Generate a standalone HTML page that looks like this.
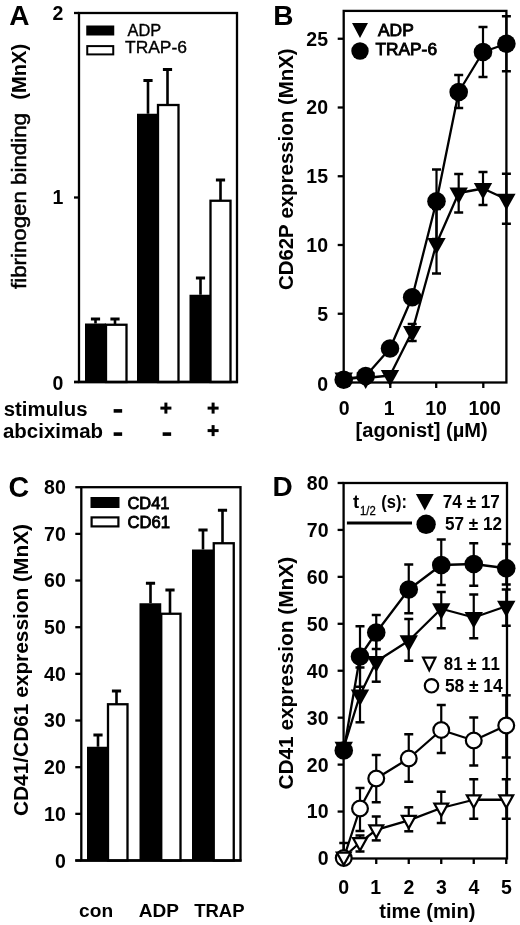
<!DOCTYPE html>
<html><head><meta charset="utf-8"><title>Figure</title>
<style>
html,body{margin:0;padding:0;background:#fff;}
svg{display:block;filter:blur(0.3px);}
text{font-family:"Liberation Sans",sans-serif;fill:#000;font-variant-ligatures:none;font-kerning:none;}
</style></head>
<body>
<svg width="520" height="925" viewBox="0 0 520 925">
<rect x="0" y="0" width="520" height="925" fill="#fff"/>
<!-- Panel A -->
<text x="9.3" y="25" font-size="28" font-weight="bold" >A</text>
<rect x="79" y="13" width="158" height="369" fill="none" stroke="#000" stroke-width="2.3"/>
<line x1="74" y1="13" x2="79" y2="13" stroke="#000" stroke-width="2.3" />
<line x1="74" y1="197.5" x2="79" y2="197.5" stroke="#000" stroke-width="2.3" />
<line x1="74" y1="382" x2="79" y2="382" stroke="#000" stroke-width="2.3" />
<text x="63.3" y="19.9" font-size="19.5" font-weight="bold" text-anchor="end" >2</text>
<text x="63.3" y="204.4" font-size="19.5" font-weight="bold" text-anchor="end" >1</text>
<text x="63.3" y="390.09999999999997" font-size="19.5" font-weight="bold" text-anchor="end" >0</text>
<text x="26.4" y="289" font-size="20" textLength="176" lengthAdjust="spacingAndGlyphs" transform="rotate(-90 26.4 289)" stroke="#000" stroke-width="0.5">fibrinogen binding</text>
<text x="26.4" y="99.7" font-size="20" font-weight="bold" textLength="55.8" lengthAdjust="spacingAndGlyphs" transform="rotate(-90 26.4 99.7)" >(MnX)</text>
<rect x="87.25" y="26.5" width="26" height="8" fill="#000" stroke="#000" stroke-width="2"/>
<rect x="87.25" y="46.1" width="26" height="8.3" fill="#fff" stroke="#000" stroke-width="2"/>
<text x="127.5" y="35.75" font-size="15.8" textLength="33.75" lengthAdjust="spacingAndGlyphs" stroke="#000" stroke-width="0.35">ADP</text>
<text x="125" y="53.2" font-size="15.8" textLength="62" lengthAdjust="spacingAndGlyphs" stroke="#000" stroke-width="0.35">TRAP-6</text>
<line x1="95.5" y1="319" x2="95.5" y2="323.5" stroke="#000" stroke-width="2.6" />
<line x1="90.9" y1="319" x2="100.1" y2="319" stroke="#000" stroke-width="3.0" />
<rect x="85" y="323.5" width="21" height="58.5" fill="#000"/>
<line x1="115" y1="319" x2="115" y2="324.75" stroke="#000" stroke-width="2.6" />
<line x1="110.4" y1="319" x2="119.6" y2="319" stroke="#000" stroke-width="3.0" />
<rect x="106" y="324.75" width="20.5" height="57.25" fill="#fff" stroke="#000" stroke-width="2.3"/>
<line x1="148" y1="80.5" x2="148" y2="113.75" stroke="#000" stroke-width="2.6" />
<line x1="143.4" y1="80.5" x2="152.6" y2="80.5" stroke="#000" stroke-width="3.0" />
<rect x="137" y="113.75" width="21.5" height="268.25" fill="#000"/>
<line x1="167.5" y1="69.5" x2="167.5" y2="105" stroke="#000" stroke-width="2.6" />
<line x1="162.9" y1="69.5" x2="172.1" y2="69.5" stroke="#000" stroke-width="3.0" />
<rect x="158" y="105" width="20.5" height="277" fill="#fff" stroke="#000" stroke-width="2.3"/>
<line x1="200.5" y1="278" x2="200.5" y2="294.75" stroke="#000" stroke-width="2.6" />
<line x1="195.9" y1="278" x2="205.1" y2="278" stroke="#000" stroke-width="3.0" />
<rect x="189.5" y="294.75" width="22" height="87.25" fill="#000"/>
<line x1="220.5" y1="180" x2="220.5" y2="200.75" stroke="#000" stroke-width="2.6" />
<line x1="215.9" y1="180" x2="225.1" y2="180" stroke="#000" stroke-width="3.0" />
<rect x="210.5" y="200.75" width="20" height="181.25" fill="#fff" stroke="#000" stroke-width="2.3"/>
<line x1="74" y1="382" x2="238" y2="382" stroke="#000" stroke-width="2.3" />
<text x="3.75" y="415.5" font-size="19.5" font-weight="bold" textLength="83.75" lengthAdjust="spacingAndGlyphs" >stimulus</text>
<text x="3" y="438.2" font-size="19.5" font-weight="bold" textLength="100" lengthAdjust="spacingAndGlyphs" >abciximab</text>
<rect x="113.65" y="409.09999999999997" width="8.5" height="3.6" fill="#000"/>
<rect x="113.65" y="432.3" width="8.5" height="3.6" fill="#000"/>
<rect x="160.4" y="406.6" width="11" height="3" fill="#000"/>
<rect x="164.4" y="402.6" width="3" height="11" fill="#000"/>
<rect x="162.65" y="432.3" width="8.5" height="3.6" fill="#000"/>
<rect x="207.6" y="406.6" width="11" height="3" fill="#000"/>
<rect x="211.6" y="402.6" width="3" height="11" fill="#000"/>
<rect x="207.6" y="429.1" width="11" height="3" fill="#000"/>
<rect x="211.6" y="425.1" width="3" height="11" fill="#000"/>
<!-- Panel B -->
<text x="273.3" y="25" font-size="28" font-weight="bold" >B</text>
<line x1="337.7" y1="382.5" x2="343.7" y2="382.5" stroke="#000" stroke-width="2.3" />
<text x="328" y="390.5" font-size="19.5" font-weight="bold" text-anchor="end" >0</text>
<line x1="337.7" y1="313.75" x2="343.7" y2="313.75" stroke="#000" stroke-width="2.3" />
<text x="328" y="320.65" font-size="19.5" font-weight="bold" text-anchor="end" >5</text>
<line x1="337.7" y1="245.0" x2="343.7" y2="245.0" stroke="#000" stroke-width="2.3" />
<text x="328" y="251.9" font-size="19.5" font-weight="bold" text-anchor="end" >10</text>
<line x1="337.7" y1="176.25" x2="343.7" y2="176.25" stroke="#000" stroke-width="2.3" />
<text x="328" y="183.15" font-size="19.5" font-weight="bold" text-anchor="end" >15</text>
<line x1="337.7" y1="107.5" x2="343.7" y2="107.5" stroke="#000" stroke-width="2.3" />
<text x="328" y="114.4" font-size="19.5" font-weight="bold" text-anchor="end" >20</text>
<line x1="337.7" y1="38.75" x2="343.7" y2="38.75" stroke="#000" stroke-width="2.3" />
<text x="328" y="45.65" font-size="19.5" font-weight="bold" text-anchor="end" >25</text>
<text x="344.3" y="415" font-size="19.5" font-weight="bold" text-anchor="middle" >0</text>
<text x="389.3" y="415" font-size="19.5" font-weight="bold" text-anchor="middle" >1</text>
<text x="436" y="415" font-size="19.5" font-weight="bold" text-anchor="middle" >10</text>
<text x="484.7" y="415" font-size="19.5" font-weight="bold" text-anchor="middle" >100</text>
<line x1="343.7" y1="382.5" x2="343.7" y2="388.0" stroke="#000" stroke-width="2.3" />
<line x1="390.3" y1="382.5" x2="390.3" y2="388.0" stroke="#000" stroke-width="2.3" />
<line x1="436.2" y1="382.5" x2="436.2" y2="388.0" stroke="#000" stroke-width="2.3" />
<line x1="483.3" y1="382.5" x2="483.3" y2="388.0" stroke="#000" stroke-width="2.3" />
<text x="355.6" y="437" font-size="19.5" font-weight="bold" textLength="132.2" lengthAdjust="spacingAndGlyphs" >[agonist] (µM)</text>
<text x="293.1" y="290.1" font-size="19.3" font-weight="bold" textLength="241.7" lengthAdjust="spacingAndGlyphs" transform="rotate(-90 293.1 290.1)" >CD62P expression (MnX)</text>
<polyline points="343.70,378.00 365.69,378.00 390.00,375.50 412.19,331.50 436.50,243.50 458.69,193.00 483.00,188.50 506.40,199.25" fill="none" stroke="#000" stroke-width="2.3" stroke-linejoin="round"/>
<polyline points="343.70,379.75 365.69,376.00 390.00,348.50 412.19,297.25 436.50,201.25 458.69,92.00 483.00,52.00 506.40,43.75" fill="none" stroke="#000" stroke-width="2.3" stroke-linejoin="round"/>
<line x1="412.1861383444643" y1="324" x2="412.1861383444643" y2="341" stroke="#000" stroke-width="2.2" />
<line x1="407.6861383444643" y1="324" x2="416.6861383444643" y2="324" stroke="#000" stroke-width="2.5" />
<line x1="407.6861383444643" y1="341" x2="416.6861383444643" y2="341" stroke="#000" stroke-width="2.5" />
<line x1="436.5" y1="209" x2="436.5" y2="273.5" stroke="#000" stroke-width="2.2" />
<line x1="432.0" y1="209" x2="441.0" y2="209" stroke="#000" stroke-width="2.5" />
<line x1="432.0" y1="273.5" x2="441.0" y2="273.5" stroke="#000" stroke-width="2.5" />
<line x1="458.6861383444643" y1="174" x2="458.6861383444643" y2="212.5" stroke="#000" stroke-width="2.2" />
<line x1="454.1861383444643" y1="174" x2="463.1861383444643" y2="174" stroke="#000" stroke-width="2.5" />
<line x1="454.1861383444643" y1="212.5" x2="463.1861383444643" y2="212.5" stroke="#000" stroke-width="2.5" />
<line x1="483" y1="172" x2="483" y2="205" stroke="#000" stroke-width="2.2" />
<line x1="478.5" y1="172" x2="487.5" y2="172" stroke="#000" stroke-width="2.5" />
<line x1="478.5" y1="205" x2="487.5" y2="205" stroke="#000" stroke-width="2.5" />
<line x1="506.4" y1="173.75" x2="506.4" y2="223.75" stroke="#000" stroke-width="2.2" />
<line x1="501.9" y1="173.75" x2="510.9" y2="173.75" stroke="#000" stroke-width="2.5" />
<line x1="501.9" y1="223.75" x2="510.9" y2="223.75" stroke="#000" stroke-width="2.5" />
<line x1="436.5" y1="169.5" x2="436.5" y2="239" stroke="#000" stroke-width="2.2" />
<line x1="432.0" y1="169.5" x2="441.0" y2="169.5" stroke="#000" stroke-width="2.5" />
<line x1="432.0" y1="239" x2="441.0" y2="239" stroke="#000" stroke-width="2.5" />
<line x1="458.6861383444643" y1="75" x2="458.6861383444643" y2="108" stroke="#000" stroke-width="2.2" />
<line x1="454.1861383444643" y1="75" x2="463.1861383444643" y2="75" stroke="#000" stroke-width="2.5" />
<line x1="454.1861383444643" y1="108" x2="463.1861383444643" y2="108" stroke="#000" stroke-width="2.5" />
<line x1="483" y1="27" x2="483" y2="77" stroke="#000" stroke-width="2.2" />
<line x1="478.5" y1="27" x2="487.5" y2="27" stroke="#000" stroke-width="2.5" />
<line x1="478.5" y1="77" x2="487.5" y2="77" stroke="#000" stroke-width="2.5" />
<line x1="506.4" y1="16.25" x2="506.4" y2="71.25" stroke="#000" stroke-width="2.2" />
<line x1="501.9" y1="16.25" x2="510.9" y2="16.25" stroke="#000" stroke-width="2.5" />
<line x1="501.9" y1="71.25" x2="510.9" y2="71.25" stroke="#000" stroke-width="2.5" />
<rect x="343.7" y="10.9" width="162.7" height="371.6" fill="none" stroke="#000" stroke-width="2.3"/>
<polygon points="334.50,372.5 352.90,372.5 343.7,388.9" fill="#000"/>
<polygon points="356.49,372.5 374.89,372.5 365.6861383444643,388.9" fill="#000"/>
<polygon points="380.80,370 399.20,370 390,386.4" fill="#000"/>
<polygon points="402.99,326 421.39,326 412.1861383444643,342.4" fill="#000"/>
<polygon points="427.30,238 445.70,238 436.5,254.4" fill="#000"/>
<polygon points="449.49,187.5 467.89,187.5 458.6861383444643,203.9" fill="#000"/>
<polygon points="473.80,183 492.20,183 483,199.4" fill="#000"/>
<polygon points="497.20,193.75 515.60,193.75 506.4,210.15" fill="#000"/>
<circle cx="343.7" cy="379.75" r="9.3" fill="#000"/>
<circle cx="365.6861383444643" cy="376" r="9.3" fill="#000"/>
<circle cx="390" cy="348.5" r="9.3" fill="#000"/>
<circle cx="412.1861383444643" cy="297.25" r="9.3" fill="#000"/>
<circle cx="436.5" cy="201.25" r="9.3" fill="#000"/>
<circle cx="458.6861383444643" cy="92" r="9.3" fill="#000"/>
<circle cx="483" cy="52" r="9.3" fill="#000"/>
<circle cx="506.4" cy="43.75" r="9.3" fill="#000"/>
<polygon points="352.00,23 368.00,23 360,38" fill="#000"/>
<circle cx="360" cy="51" r="8.7" fill="#000"/>
<text x="378" y="35.75" font-size="16.3" textLength="35.75" lengthAdjust="spacingAndGlyphs" stroke="#000" stroke-width="0.85">ADP</text>
<text x="375.5" y="54.5" font-size="16.3" textLength="61.5" lengthAdjust="spacingAndGlyphs" stroke="#000" stroke-width="0.85">TRAP-6</text>
<!-- Panel C -->
<text x="8.4" y="497.3" font-size="28.6" font-weight="bold" >C</text>
<rect x="81.3" y="487.2" width="159.2" height="373.3" fill="none" stroke="#000" stroke-width="2.3"/>
<line x1="75.3" y1="860.5" x2="81.3" y2="860.5" stroke="#000" stroke-width="2.3" />
<text x="65.8" y="868.0" font-size="19.5" font-weight="bold" text-anchor="end" >0</text>
<line x1="75.3" y1="813.84" x2="81.3" y2="813.84" stroke="#000" stroke-width="2.3" />
<text x="65.8" y="820.74" font-size="19.5" font-weight="bold" text-anchor="end" >10</text>
<line x1="75.3" y1="767.18" x2="81.3" y2="767.18" stroke="#000" stroke-width="2.3" />
<text x="65.8" y="774.0799999999999" font-size="19.5" font-weight="bold" text-anchor="end" >20</text>
<line x1="75.3" y1="720.52" x2="81.3" y2="720.52" stroke="#000" stroke-width="2.3" />
<text x="65.8" y="727.42" font-size="19.5" font-weight="bold" text-anchor="end" >30</text>
<line x1="75.3" y1="673.86" x2="81.3" y2="673.86" stroke="#000" stroke-width="2.3" />
<text x="65.8" y="680.76" font-size="19.5" font-weight="bold" text-anchor="end" >40</text>
<line x1="75.3" y1="627.2" x2="81.3" y2="627.2" stroke="#000" stroke-width="2.3" />
<text x="65.8" y="634.1" font-size="19.5" font-weight="bold" text-anchor="end" >50</text>
<line x1="75.3" y1="580.54" x2="81.3" y2="580.54" stroke="#000" stroke-width="2.3" />
<text x="65.8" y="587.4399999999999" font-size="19.5" font-weight="bold" text-anchor="end" >60</text>
<line x1="75.3" y1="533.88" x2="81.3" y2="533.88" stroke="#000" stroke-width="2.3" />
<text x="65.8" y="540.78" font-size="19.5" font-weight="bold" text-anchor="end" >70</text>
<line x1="75.3" y1="487.21999999999997" x2="81.3" y2="487.21999999999997" stroke="#000" stroke-width="2.3" />
<text x="65.8" y="494.11999999999995" font-size="19.5" font-weight="bold" text-anchor="end" >80</text>
<text x="27.7" y="816" font-size="19.3" font-weight="bold" textLength="292" lengthAdjust="spacingAndGlyphs" transform="rotate(-90 27.7 816)" >CD41/CD61 expression (MnX)</text>
<rect x="91.5" y="498" width="27" height="9" fill="#000" stroke="#000" stroke-width="2"/>
<rect x="91.6" y="517.4" width="26.8" height="9" fill="#fff" stroke="#000" stroke-width="2.2"/>
<text x="127.5" y="508.75" font-size="16.3" textLength="42" lengthAdjust="spacingAndGlyphs" stroke="#000" stroke-width="0.85">CD41</text>
<text x="127.5" y="528" font-size="16.3" textLength="42.5" lengthAdjust="spacingAndGlyphs" stroke="#000" stroke-width="0.85">CD61</text>
<line x1="98" y1="735" x2="98" y2="746.75" stroke="#000" stroke-width="2.6" />
<line x1="93.4" y1="735" x2="102.6" y2="735" stroke="#000" stroke-width="3.0" />
<rect x="87" y="746.75" width="21" height="113.75" fill="#000"/>
<line x1="116.5" y1="691" x2="116.5" y2="704.25" stroke="#000" stroke-width="2.6" />
<line x1="111.9" y1="691" x2="121.1" y2="691" stroke="#000" stroke-width="3.0" />
<rect x="108" y="704.25" width="19.5" height="156.25" fill="#fff" stroke="#000" stroke-width="2.3"/>
<line x1="150.5" y1="583.25" x2="150.5" y2="603.25" stroke="#000" stroke-width="2.6" />
<line x1="145.9" y1="583.25" x2="155.1" y2="583.25" stroke="#000" stroke-width="3.0" />
<rect x="139.5" y="603.25" width="21.75" height="257.25" fill="#000"/>
<line x1="170" y1="590" x2="170" y2="613.75" stroke="#000" stroke-width="2.6" />
<line x1="165.4" y1="590" x2="174.6" y2="590" stroke="#000" stroke-width="3.0" />
<rect x="161.25" y="613.75" width="19.25" height="246.75" fill="#fff" stroke="#000" stroke-width="2.3"/>
<line x1="203" y1="530" x2="203" y2="549.5" stroke="#000" stroke-width="2.6" />
<line x1="198.4" y1="530" x2="207.6" y2="530" stroke="#000" stroke-width="3.0" />
<rect x="192" y="549.5" width="21.75" height="311.0" fill="#000"/>
<line x1="222.5" y1="510.25" x2="222.5" y2="543.25" stroke="#000" stroke-width="2.6" />
<line x1="217.9" y1="510.25" x2="227.1" y2="510.25" stroke="#000" stroke-width="3.0" />
<rect x="213.75" y="543.25" width="20" height="317.25" fill="#fff" stroke="#000" stroke-width="2.3"/>
<line x1="75.3" y1="860.5" x2="241.5" y2="860.5" stroke="#000" stroke-width="2.3" />
<text x="79.1" y="917.2" font-size="18.5" font-weight="bold" textLength="34" lengthAdjust="spacingAndGlyphs" >con</text>
<text x="138.7" y="917.2" font-size="18.5" font-weight="bold" textLength="40.2" lengthAdjust="spacingAndGlyphs" >ADP</text>
<text x="194.2" y="917.2" font-size="18.5" font-weight="bold" textLength="50.4" lengthAdjust="spacingAndGlyphs" >TRAP</text>
<!-- Panel D -->
<text x="272.4" y="495.6" font-size="28" font-weight="bold" >D</text>
<line x1="337.6" y1="858.5" x2="343.6" y2="858.5" stroke="#000" stroke-width="2.3" />
<text x="328.5" y="865.4" font-size="19.5" font-weight="bold" text-anchor="end" >0</text>
<line x1="337.6" y1="811.56" x2="343.6" y2="811.56" stroke="#000" stroke-width="2.3" />
<text x="328.5" y="818.4599999999999" font-size="19.5" font-weight="bold" text-anchor="end" >10</text>
<line x1="337.6" y1="764.62" x2="343.6" y2="764.62" stroke="#000" stroke-width="2.3" />
<text x="328.5" y="771.52" font-size="19.5" font-weight="bold" text-anchor="end" >20</text>
<line x1="337.6" y1="717.6800000000001" x2="343.6" y2="717.6800000000001" stroke="#000" stroke-width="2.3" />
<text x="328.5" y="724.58" font-size="19.5" font-weight="bold" text-anchor="end" >30</text>
<line x1="337.6" y1="670.74" x2="343.6" y2="670.74" stroke="#000" stroke-width="2.3" />
<text x="328.5" y="677.64" font-size="19.5" font-weight="bold" text-anchor="end" >40</text>
<line x1="337.6" y1="623.8" x2="343.6" y2="623.8" stroke="#000" stroke-width="2.3" />
<text x="328.5" y="630.6999999999999" font-size="19.5" font-weight="bold" text-anchor="end" >50</text>
<line x1="337.6" y1="576.86" x2="343.6" y2="576.86" stroke="#000" stroke-width="2.3" />
<text x="328.5" y="583.76" font-size="19.5" font-weight="bold" text-anchor="end" >60</text>
<line x1="337.6" y1="529.9200000000001" x2="343.6" y2="529.9200000000001" stroke="#000" stroke-width="2.3" />
<text x="328.5" y="536.82" font-size="19.5" font-weight="bold" text-anchor="end" >70</text>
<line x1="337.6" y1="482.98" x2="343.6" y2="482.98" stroke="#000" stroke-width="2.3" />
<text x="328.5" y="489.88" font-size="19.5" font-weight="bold" text-anchor="end" >80</text>
<text x="343.7" y="893.6" font-size="19.5" font-weight="bold" text-anchor="middle" >0</text>
<text x="375.8" y="893.6" font-size="19.5" font-weight="bold" text-anchor="middle" >1</text>
<text x="408.9" y="893.6" font-size="19.5" font-weight="bold" text-anchor="middle" >2</text>
<text x="441.5" y="893.6" font-size="19.5" font-weight="bold" text-anchor="middle" >3</text>
<text x="474" y="893.6" font-size="19.5" font-weight="bold" text-anchor="middle" >4</text>
<text x="506.5" y="893.6" font-size="19.5" font-weight="bold" text-anchor="middle" >5</text>
<line x1="343.75" y1="858.5" x2="343.75" y2="864.0" stroke="#000" stroke-width="2.3" />
<line x1="376.25" y1="858.5" x2="376.25" y2="864.0" stroke="#000" stroke-width="2.3" />
<line x1="408.75" y1="858.5" x2="408.75" y2="864.0" stroke="#000" stroke-width="2.3" />
<line x1="441.25" y1="858.5" x2="441.25" y2="864.0" stroke="#000" stroke-width="2.3" />
<line x1="473.75" y1="858.5" x2="473.75" y2="864.0" stroke="#000" stroke-width="2.3" />
<line x1="506.25" y1="858.5" x2="506.25" y2="864.0" stroke="#000" stroke-width="2.3" />
<text x="379.3" y="917.7" font-size="19.5" font-weight="bold" textLength="96.1" lengthAdjust="spacingAndGlyphs" >time (min)</text>
<text x="293.1" y="789.6" font-size="19.3" font-weight="bold" textLength="232.7" lengthAdjust="spacingAndGlyphs" transform="rotate(-90 293.1 789.6)" >CD41 expression (MnX)</text>
<polyline points="343.75,750.50 360.00,656.50 376.25,632.50 408.75,589.50 441.25,565.00 473.75,564.00 506.25,568.25" fill="none" stroke="#000" stroke-width="2.3" stroke-linejoin="round"/>
<polyline points="343.75,747.30 360.00,695.00 376.25,661.50 408.75,640.80 441.25,608.75 473.75,617.50 506.25,606.25" fill="none" stroke="#000" stroke-width="2.3" stroke-linejoin="round"/>
<polyline points="343.75,858.00 360.00,808.50 376.25,778.50 408.75,758.50 441.25,730.00 473.75,740.50 506.25,725.50" fill="none" stroke="#000" stroke-width="2.3" stroke-linejoin="round"/>
<polyline points="343.75,857.00 360.00,842.50 376.25,829.80 408.75,820.30 441.25,808.00 473.75,799.75 506.25,799.75" fill="none" stroke="#000" stroke-width="2.3" stroke-linejoin="round"/>
<line x1="360" y1="626.25" x2="360" y2="686.75" stroke="#000" stroke-width="2.2" />
<line x1="355.5" y1="626.25" x2="364.5" y2="626.25" stroke="#000" stroke-width="2.5" />
<line x1="355.5" y1="686.75" x2="364.5" y2="686.75" stroke="#000" stroke-width="2.5" />
<line x1="376.25" y1="615" x2="376.25" y2="649" stroke="#000" stroke-width="2.2" />
<line x1="371.75" y1="615" x2="380.75" y2="615" stroke="#000" stroke-width="2.5" />
<line x1="371.75" y1="649" x2="380.75" y2="649" stroke="#000" stroke-width="2.5" />
<line x1="408.75" y1="564.5" x2="408.75" y2="613.25" stroke="#000" stroke-width="2.2" />
<line x1="404.25" y1="564.5" x2="413.25" y2="564.5" stroke="#000" stroke-width="2.5" />
<line x1="404.25" y1="613.25" x2="413.25" y2="613.25" stroke="#000" stroke-width="2.5" />
<line x1="441.25" y1="539.5" x2="441.25" y2="585" stroke="#000" stroke-width="2.2" />
<line x1="436.75" y1="539.5" x2="445.75" y2="539.5" stroke="#000" stroke-width="2.5" />
<line x1="436.75" y1="585" x2="445.75" y2="585" stroke="#000" stroke-width="2.5" />
<line x1="473.75" y1="543.25" x2="473.75" y2="585.75" stroke="#000" stroke-width="2.2" />
<line x1="469.25" y1="543.25" x2="478.25" y2="543.25" stroke="#000" stroke-width="2.5" />
<line x1="469.25" y1="585.75" x2="478.25" y2="585.75" stroke="#000" stroke-width="2.5" />
<line x1="506.25" y1="544" x2="506.25" y2="584.5" stroke="#000" stroke-width="2.2" />
<line x1="501.75" y1="544" x2="510.75" y2="544" stroke="#000" stroke-width="2.5" />
<line x1="501.75" y1="584.5" x2="510.75" y2="584.5" stroke="#000" stroke-width="2.5" />
<line x1="360" y1="667.5" x2="360" y2="722.3" stroke="#000" stroke-width="2.2" />
<line x1="355.5" y1="667.5" x2="364.5" y2="667.5" stroke="#000" stroke-width="2.5" />
<line x1="355.5" y1="722.3" x2="364.5" y2="722.3" stroke="#000" stroke-width="2.5" />
<line x1="376.25" y1="640" x2="376.25" y2="681.7" stroke="#000" stroke-width="2.2" />
<line x1="371.75" y1="640" x2="380.75" y2="640" stroke="#000" stroke-width="2.5" />
<line x1="371.75" y1="681.7" x2="380.75" y2="681.7" stroke="#000" stroke-width="2.5" />
<line x1="408.75" y1="619" x2="408.75" y2="660.75" stroke="#000" stroke-width="2.2" />
<line x1="404.25" y1="619" x2="413.25" y2="619" stroke="#000" stroke-width="2.5" />
<line x1="404.25" y1="660.75" x2="413.25" y2="660.75" stroke="#000" stroke-width="2.5" />
<line x1="441.25" y1="592" x2="441.25" y2="628.25" stroke="#000" stroke-width="2.2" />
<line x1="436.75" y1="592" x2="445.75" y2="592" stroke="#000" stroke-width="2.5" />
<line x1="436.75" y1="628.25" x2="445.75" y2="628.25" stroke="#000" stroke-width="2.5" />
<line x1="473.75" y1="594.5" x2="473.75" y2="638.25" stroke="#000" stroke-width="2.2" />
<line x1="469.25" y1="594.5" x2="478.25" y2="594.5" stroke="#000" stroke-width="2.5" />
<line x1="469.25" y1="638.25" x2="478.25" y2="638.25" stroke="#000" stroke-width="2.5" />
<line x1="506.25" y1="589.5" x2="506.25" y2="625.75" stroke="#000" stroke-width="2.2" />
<line x1="501.75" y1="589.5" x2="510.75" y2="589.5" stroke="#000" stroke-width="2.5" />
<line x1="501.75" y1="625.75" x2="510.75" y2="625.75" stroke="#000" stroke-width="2.5" />
<line x1="360" y1="788" x2="360" y2="831" stroke="#000" stroke-width="2.2" />
<line x1="355.5" y1="788" x2="364.5" y2="788" stroke="#000" stroke-width="2.5" />
<line x1="355.5" y1="831" x2="364.5" y2="831" stroke="#000" stroke-width="2.5" />
<line x1="376.25" y1="755" x2="376.25" y2="802.25" stroke="#000" stroke-width="2.2" />
<line x1="371.75" y1="755" x2="380.75" y2="755" stroke="#000" stroke-width="2.5" />
<line x1="371.75" y1="802.25" x2="380.75" y2="802.25" stroke="#000" stroke-width="2.5" />
<line x1="408.75" y1="734.25" x2="408.75" y2="781.75" stroke="#000" stroke-width="2.2" />
<line x1="404.25" y1="734.25" x2="413.25" y2="734.25" stroke="#000" stroke-width="2.5" />
<line x1="404.25" y1="781.75" x2="413.25" y2="781.75" stroke="#000" stroke-width="2.5" />
<line x1="441.25" y1="705" x2="441.25" y2="753" stroke="#000" stroke-width="2.2" />
<line x1="436.75" y1="705" x2="445.75" y2="705" stroke="#000" stroke-width="2.5" />
<line x1="436.75" y1="753" x2="445.75" y2="753" stroke="#000" stroke-width="2.5" />
<line x1="473.75" y1="717.5" x2="473.75" y2="765.5" stroke="#000" stroke-width="2.2" />
<line x1="469.25" y1="717.5" x2="478.25" y2="717.5" stroke="#000" stroke-width="2.5" />
<line x1="469.25" y1="765.5" x2="478.25" y2="765.5" stroke="#000" stroke-width="2.5" />
<line x1="506.25" y1="695.3" x2="506.25" y2="757.5" stroke="#000" stroke-width="2.2" />
<line x1="501.75" y1="695.3" x2="510.75" y2="695.3" stroke="#000" stroke-width="2.5" />
<line x1="501.75" y1="757.5" x2="510.75" y2="757.5" stroke="#000" stroke-width="2.5" />
<line x1="343.75" y1="843" x2="343.75" y2="858" stroke="#000" stroke-width="2.2" />
<line x1="339.25" y1="843" x2="348.25" y2="843" stroke="#000" stroke-width="2.5" />
<line x1="339.25" y1="858" x2="348.25" y2="858" stroke="#000" stroke-width="2.5" />
<line x1="360" y1="835.5" x2="360" y2="851.5" stroke="#000" stroke-width="2.2" />
<line x1="355.5" y1="835.5" x2="364.5" y2="835.5" stroke="#000" stroke-width="2.5" />
<line x1="355.5" y1="851.5" x2="364.5" y2="851.5" stroke="#000" stroke-width="2.5" />
<line x1="376.25" y1="816.5" x2="376.25" y2="840.4" stroke="#000" stroke-width="2.2" />
<line x1="371.75" y1="816.5" x2="380.75" y2="816.5" stroke="#000" stroke-width="2.5" />
<line x1="371.75" y1="840.4" x2="380.75" y2="840.4" stroke="#000" stroke-width="2.5" />
<line x1="408.75" y1="807.3" x2="408.75" y2="831.3" stroke="#000" stroke-width="2.2" />
<line x1="404.25" y1="807.3" x2="413.25" y2="807.3" stroke="#000" stroke-width="2.5" />
<line x1="404.25" y1="831.3" x2="413.25" y2="831.3" stroke="#000" stroke-width="2.5" />
<line x1="441.25" y1="791.75" x2="441.25" y2="823" stroke="#000" stroke-width="2.2" />
<line x1="436.75" y1="791.75" x2="445.75" y2="791.75" stroke="#000" stroke-width="2.5" />
<line x1="436.75" y1="823" x2="445.75" y2="823" stroke="#000" stroke-width="2.5" />
<line x1="473.75" y1="779.25" x2="473.75" y2="818.75" stroke="#000" stroke-width="2.2" />
<line x1="469.25" y1="779.25" x2="478.25" y2="779.25" stroke="#000" stroke-width="2.5" />
<line x1="469.25" y1="818.75" x2="478.25" y2="818.75" stroke="#000" stroke-width="2.5" />
<line x1="506.25" y1="779.25" x2="506.25" y2="818.75" stroke="#000" stroke-width="2.2" />
<line x1="501.75" y1="779.25" x2="510.75" y2="779.25" stroke="#000" stroke-width="2.5" />
<line x1="501.75" y1="818.75" x2="510.75" y2="818.75" stroke="#000" stroke-width="2.5" />
<rect x="343.6" y="483" width="163.39999999999998" height="375.5" fill="none" stroke="#000" stroke-width="2.3"/>
<circle cx="343.75" cy="858" r="7.9" fill="#fff" stroke="#000" stroke-width="2.2"/>
<circle cx="360" cy="808.5" r="7.9" fill="#fff" stroke="#000" stroke-width="2.2"/>
<circle cx="376.25" cy="778.5" r="7.9" fill="#fff" stroke="#000" stroke-width="2.2"/>
<circle cx="408.75" cy="758.5" r="7.9" fill="#fff" stroke="#000" stroke-width="2.2"/>
<circle cx="441.25" cy="730" r="7.9" fill="#fff" stroke="#000" stroke-width="2.2"/>
<circle cx="473.75" cy="740.5" r="7.9" fill="#fff" stroke="#000" stroke-width="2.2"/>
<circle cx="506.25" cy="725.5" r="7.9" fill="#fff" stroke="#000" stroke-width="2.2"/>
<polygon points="336.84,852.6 350.66,852.6 343.75,864.99" fill="#fff" stroke="#000" stroke-width="2.2" stroke-linejoin="miter"/>
<polygon points="353.09,838.1 366.91,838.1 360,850.49" fill="#fff" stroke="#000" stroke-width="2.2" stroke-linejoin="miter"/>
<polygon points="369.34,825.4 383.16,825.4 376.25,837.79" fill="#fff" stroke="#000" stroke-width="2.2" stroke-linejoin="miter"/>
<polygon points="401.84,815.9 415.66,815.9 408.75,828.29" fill="#fff" stroke="#000" stroke-width="2.2" stroke-linejoin="miter"/>
<polygon points="434.34,803.6 448.16,803.6 441.25,815.99" fill="#fff" stroke="#000" stroke-width="2.2" stroke-linejoin="miter"/>
<polygon points="466.84,795.35 480.66,795.35 473.75,807.74" fill="#fff" stroke="#000" stroke-width="2.2" stroke-linejoin="miter"/>
<polygon points="499.34,795.35 513.16,795.35 506.25,807.74" fill="#fff" stroke="#000" stroke-width="2.2" stroke-linejoin="miter"/>
<polygon points="334.55,741.8 352.95,741.8 343.75,758.1999999999999" fill="#000"/>
<polygon points="350.80,689.5 369.20,689.5 360,705.9" fill="#000"/>
<polygon points="367.05,656 385.45,656 376.25,672.4" fill="#000"/>
<polygon points="399.55,635.3 417.95,635.3 408.75,651.6999999999999" fill="#000"/>
<polygon points="432.05,603.25 450.45,603.25 441.25,619.65" fill="#000"/>
<polygon points="464.55,612 482.95,612 473.75,628.4" fill="#000"/>
<polygon points="497.05,600.75 515.45,600.75 506.25,617.15" fill="#000"/>
<circle cx="343.75" cy="750.5" r="9.3" fill="#000"/>
<circle cx="360" cy="656.5" r="9.3" fill="#000"/>
<circle cx="376.25" cy="632.5" r="9.3" fill="#000"/>
<circle cx="408.75" cy="589.5" r="9.3" fill="#000"/>
<circle cx="441.25" cy="565" r="9.3" fill="#000"/>
<circle cx="473.75" cy="564" r="9.3" fill="#000"/>
<circle cx="506.25" cy="568.25" r="9.3" fill="#000"/>
<text x="353.1" y="507.8" font-size="18.5" font-weight="bold" >t</text>
<text x="360" y="514.5" font-size="12" textLength="15.7" lengthAdjust="spacingAndGlyphs" stroke="#000" stroke-width="0.3">1/2</text>
<text x="381.2" y="507.8" font-size="18.5" font-weight="bold" textLength="25.7" lengthAdjust="spacingAndGlyphs" >(s):</text>
<line x1="346.9" y1="523" x2="412" y2="523" stroke="#000" stroke-width="2.8" />
<polygon points="415.90,494 433.70,494 424.8,510.4" fill="#000"/>
<circle cx="426.1" cy="524.3" r="9.7" fill="#000"/>
<text x="442.8" y="507.8" font-size="17.5" font-weight="bold" textLength="57.1" lengthAdjust="spacingAndGlyphs" >74 ± 17</text>
<text x="444.9" y="529.8" font-size="17.5" font-weight="bold" textLength="57.1" lengthAdjust="spacingAndGlyphs" >57 ± 12</text>
<polygon points="423.09,657.7 435.41,657.7 429.25,670.19" fill="#fff" stroke="#000" stroke-width="2.2" stroke-linejoin="miter"/>
<circle cx="431.5" cy="685.8" r="6.699999999999999" fill="#fff" stroke="#000" stroke-width="2.2"/>
<text x="443.8" y="669.75" font-size="17.5" font-weight="bold" textLength="56.1" lengthAdjust="spacingAndGlyphs" >81 ± 11</text>
<text x="444.9" y="691.5" font-size="17.5" font-weight="bold" textLength="57.8" lengthAdjust="spacingAndGlyphs" >58 ± 14</text>
</svg>
</body></html>
